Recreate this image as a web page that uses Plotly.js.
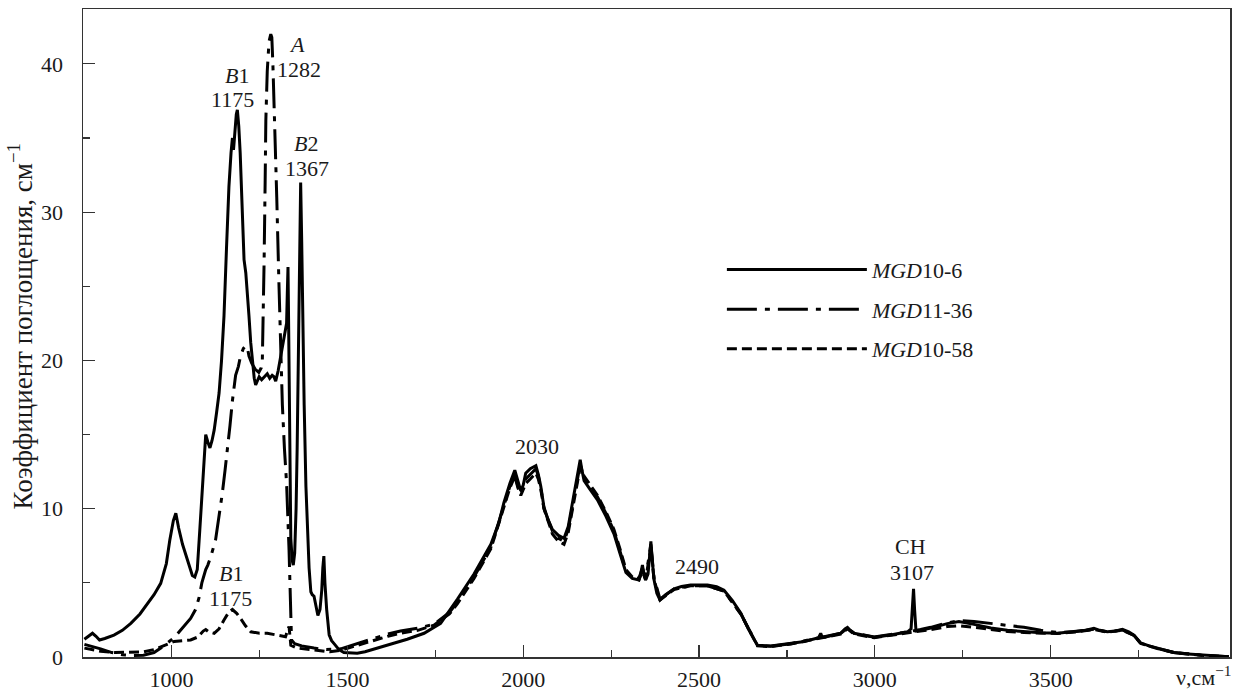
<!DOCTYPE html>
<html>
<head>
<meta charset="utf-8">
<script src="https://cdn.plot.ly/plotly-3.0.1.min.js"></script>
<style>html,body{margin:0;padding:0;background:#fff;}#chart{width:1239px;height:694px;}</style>
</head>
<body>
<div id="chart"></div>
<script>
// MGD10-6 (solid)
const nuA = [752,765,775,785,795,810,836,860,884,910,931,950,969,985,995,1005,1012,1020,1031,1045,1059,1066,1073,1080,1088,1093,1097,1103,1109,1115,1121,1128,1135,1142,1149,1156,1163,1169,1173,1176,1180,1184,1187,1191,1195,1201,1206,1211,1216,1220,1225,1230,1235,1239,1244,1249,1256,1263,1272,1279,1286,1291,1296,1303,1310,1320,1327,1329,1331,1333,1335,1337,1339,1343,1346,1350,1354,1357,1361,1364,1367,1370,1373,1377,1382,1386,1391,1396,1400,1405,1410,1416,1422,1427,1430,1433,1436,1441,1448,1455,1462,1476,1490,1510,1528,1550,1580,1623,1670,1718,1765,1813,1860,1908,1930,1945,1962,1976,1985,1993,2000,2007,2020,2036,2043,2050,2059,2070,2083,2100,2116,2128,2140,2152,2162,2167,2173,2190,2211,2235,2258,2275,2292,2310,2329,2334,2339,2343,2348,2355,2359,2363,2367,2372,2380,2389,2405,2429,2450,2476,2500,2524,2550,2571,2595,2619,2640,2666,2704,2761,2800,2840,2846,2850,2860,2903,2915,2922,2930,2941,2970,2998,3045,3093,3103,3107,3110,3113,3117,3130,3159,3206,3239,3282,3330,3377,3424,3472,3519,3567,3600,3623,3640,3661,3685,3704,3715,3722,3737,3756,3780,3803,3830,3850,3880,3926,3970,4007];
const kA = [1.2,1.45,1.6,1.4,1.15,1.25,1.48,1.8,2.27,2.9,3.6,4.2,4.97,6.3,7.9,9.2,9.7,8.7,7.6,6.5,5.5,5.4,5.9,8.5,11.7,14.0,15.0,14.5,14.1,14.6,15.3,16.5,17.8,20.0,23.0,27.5,31.7,34.0,35.0,34.2,35.8,36.6,36.9,35.8,34.0,29.5,26.8,25.9,24.5,23.0,21.2,19.8,18.8,18.35,18.6,18.9,18.7,18.9,19.1,18.8,19.0,18.9,18.6,19.3,20.3,21.6,22.5,24.5,26.3,22.0,17.0,13.0,8.0,6.5,6.2,7.0,10.0,14.0,21.0,28.0,32.0,28.0,22.0,17.0,11.5,8.3,6.0,4.4,4.2,4.1,3.5,2.8,3.2,4.5,6.0,6.8,5.0,3.2,1.5,1.1,0.9,0.5,0.3,0.25,0.25,0.35,0.55,0.85,1.2,1.6,2.27,3.9,5.6,7.6,9.0,10.4,11.7,12.6,11.8,11.2,11.6,12.4,12.7,12.9,12.3,11.5,10.1,9.3,8.6,8.2,8.0,8.8,10.4,12.0,13.3,12.6,11.9,11.3,10.6,9.5,8.3,7.0,5.7,5.3,5.2,5.6,6.2,5.6,5.2,5.6,7.0,7.8,6.5,5.2,4.3,3.85,4.2,4.6,4.75,4.85,4.85,4.85,4.75,4.5,3.8,2.95,1.9,0.8,0.74,0.92,1.05,1.3,1.6,1.35,1.35,1.6,1.9,2.0,1.8,1.6,1.45,1.33,1.48,1.7,1.9,3.5,4.6,3.2,1.75,1.8,1.95,2.25,2.4,2.2,1.95,1.8,1.7,1.64,1.6,1.7,1.8,1.93,1.8,1.7,1.75,1.87,1.75,1.7,1.48,0.95,0.75,0.59,0.42,0.3,0.22,0.13,0.06,0.02];

// MGD11-36 (dash-dot)
const nuB = [752,770,798,830,860,884,920,950,975,1007,1030,1054,1068,1078,1086,1092,1097,1103,1112,1125,1135,1144,1152,1159,1166,1173,1182,1190,1196,1204,1211,1216,1220,1228,1238,1248,1255,1258,1261,1263,1266,1268,1272,1277,1282,1285,1288,1291,1295,1299,1305,1310,1315,1321,1327,1334,1337,1339,1341,1350,1370,1405,1440,1481,1500,1530,1576,1615,1651,1700,1746,1790,1813,1860,1908,1945,1962,1976,1985,1993,2000,2007,2020,2036,2043,2050,2059,2083,2100,2116,2128,2140,2152,2162,2173,2190,2211,2235,2258,2275,2292,2310,2329,2339,2348,2363,2372,2389,2429,2476,2524,2571,2619,2666,2704,2761,2846,2903,2922,2941,2998,3045,3093,3130,3159,3206,3239,3282,3330,3377,3424,3472,3519,3567,3623,3661,3704,3737,3756,3803,3850,3926,4007];
const kB = [0.85,0.75,0.55,0.3,0.15,0.1,0.12,0.3,0.7,1.3,1.9,2.6,3.2,4.0,5.0,5.6,5.9,6.2,6.8,7.9,9.4,11.0,12.6,14.0,15.6,17.3,19.0,19.6,20.3,20.8,21.0,20.8,20.3,19.8,19.4,19.2,19.5,20.0,23.0,26.6,32.0,36.2,39.5,41.5,42.0,41.8,40.0,37.8,34.5,31.0,25.4,20.9,17.0,14.0,11.7,7.2,4.5,2.7,1.15,0.9,0.75,0.6,0.5,0.55,0.7,0.95,1.26,1.55,1.75,1.95,2.2,3.0,3.7,5.4,7.4,10.2,11.5,12.3,11.5,11.0,11.4,12.0,12.3,12.7,12.2,11.4,10.0,8.5,8.0,7.8,8.6,10.2,11.8,13.0,12.0,11.5,10.8,9.7,8.5,7.2,5.8,5.4,5.3,6.0,5.3,7.6,5.3,3.9,4.6,4.8,4.8,4.45,2.9,0.78,0.72,0.9,1.35,1.6,1.95,1.6,1.35,1.5,1.7,1.85,2.0,2.3,2.45,2.4,2.28,2.15,2.0,1.8,1.65,1.7,1.88,1.7,1.82,1.45,0.92,0.58,0.3,0.13,0.02];

// MGD10-58 (dashed)
const nuC = [752,775,798,840,884,920,950,975,1007,1030,1054,1075,1090,1097,1105,1121,1135,1149,1162,1173,1185,1196,1210,1225,1250,1272,1300,1324,1330,1334,1337,1339,1357,1405,1450,1481,1510,1540,1576,1615,1651,1700,1746,1790,1813,1860,1908,1945,1962,1976,1985,1993,2000,2007,2020,2036,2043,2050,2059,2083,2100,2116,2128,2140,2152,2162,2173,2190,2211,2235,2258,2275,2292,2310,2329,2339,2348,2363,2372,2389,2429,2476,2524,2571,2619,2666,2704,2761,2846,2903,2922,2941,2998,3045,3093,3130,3159,3206,3239,3282,3330,3377,3424,3472,3519,3567,3623,3661,3704,3737,3756,3803,3850,3926,4007];
const kC = [0.6,0.5,0.38,0.3,0.3,0.35,0.5,0.75,1.05,1.1,1.15,1.35,1.75,1.85,1.7,1.6,1.9,2.5,3.0,3.2,2.95,2.6,2.1,1.7,1.6,1.6,1.5,1.37,1.8,2.05,1.3,0.8,0.6,0.45,0.35,0.45,0.65,0.85,1.15,1.4,1.6,1.8,2.15,2.9,3.6,5.3,7.3,10.0,11.4,12.2,11.4,10.9,11.3,11.7,12.0,12.4,12.0,11.3,10.0,8.3,7.8,7.6,8.4,10.0,11.7,12.8,12.2,11.6,10.9,9.8,8.6,7.3,5.9,5.4,5.2,5.8,5.2,7.4,5.2,3.85,4.55,4.8,4.8,4.45,2.9,0.75,0.7,0.88,1.3,1.55,1.9,1.55,1.3,1.45,1.65,1.75,1.85,2.05,2.1,2.0,1.85,1.72,1.65,1.6,1.58,1.68,1.85,1.68,1.8,1.45,0.92,0.57,0.3,0.12,0.02];

const seriesNames = ['<i>MGD</i>10-6', '<i>MGD</i>11-36', '<i>MGD</i>10-58'];
const xTickVals = [1000,1500,2000,2500,3000,3500];
const xTickText = ['1000','1500','2000','2500','3000','3500'];
const yTickVals = [0,10,20,30,40];
const yTickText = ['0','10','20','30','40'];

// peak labels: [wavenumber, k, text]
const peakLabels = [
  [1187, 39.2, '<i>B</i>1'], [1173, 37.6, '1175'],
  [1356, 41.3, '<i>A</i>'], [1362, 39.6, '1282'],
  [1381, 34.6, '<i>B</i>2'], [1384, 32.95, '1367'],
  [1168, 5.62, '<i>B</i>1'], [1168, 3.92, '1175'],
  [2038, 14.19, '2030'],
  [2493, 6.09, '2490'],
  [3102, 7.42, 'CH'], [3107, 5.72, '3107']
];

const FONT = '"Liberation Serif", "Times New Roman", serif';
const TXT = '#1a1a1a';

const traces = [
  {x: nuA, y: kA, name: seriesNames[0], legendgroup: 'a', mode: 'lines', line: {color: '#000', width: 3, dash: 'solid'}},
  {x: nuB, y: kB, name: seriesNames[1], legendgroup: 'b', mode: 'lines', line: {color: '#000', width: 3, dash: '30px,8px,5px,8px'}},
  {x: nuC, y: kC, name: seriesNames[2], legendgroup: 'c', mode: 'lines', line: {color: '#000', width: 3, dash: '10px,5px'}}
];

const annotations = peakLabels.map(p => ({
  x: p[0], y: p[1], xref: 'x', yref: 'y', text: p[2], showarrow: false,
  font: {family: FONT, size: 22, color: TXT}, xanchor: 'center', yanchor: 'middle'
}));
annotations.push({
  xref: 'paper', yref: 'paper', x: 0.977, y: -0.03, text: 'ν,см<sup>−1</sup>', showarrow: false,
  font: {family: FONT, size: 22, color: TXT}, xanchor: 'center', yanchor: 'middle'
});
annotations.push({
  xref: 'paper', yref: 'paper', x: -0.055, y: 0.51, text: 'Коэффициент поглощения, см<sup>−1</sup>', showarrow: false,
  textangle: -90, font: {family: FONT, size: 27, color: TXT}, xanchor: 'center', yanchor: 'middle'
});

const layout = {
  width: 1239, height: 694,
  margin: {l: 83, r: 9, t: 9, b: 37},
  paper_bgcolor: '#fff', plot_bgcolor: '#fff',
  font: {family: FONT, size: 22, color: TXT},
  showlegend: true,
  legend: {x: 0.557, y: 0.63, xanchor: 'left', yanchor: 'top', bgcolor: 'rgba(0,0,0,0)', borderwidth: 0,
           font: {family: FONT, size: 22, color: TXT}, itemwidth: 140, tracegroupgap: 8, traceorder: 'grouped'},
  xaxis: {range: [748, 4010], showgrid: false, zeroline: false, showline: true, mirror: true, linecolor: '#333', linewidth: 1.5,
          tickmode: 'array', tickvals: xTickVals, ticktext: xTickText, ticks: 'inside', ticklen: 12, tickcolor: '#333', tickwidth: 1.2,
          ticklabelstandoff: 2,
          minor: {tickmode: 'array', tickvals: [1250,1750,2250,2750,3250,3750], ticks: 'inside', ticklen: 7, tickcolor: '#333', tickwidth: 1.2},
          tickfont: {family: FONT, size: 22, color: TXT}},
  yaxis: {range: [0, 43.7], showgrid: false, zeroline: false, showline: true, mirror: true, linecolor: '#333', linewidth: 1.5,
          tickmode: 'array', tickvals: yTickVals, ticktext: yTickText, ticks: 'inside', ticklen: 12, tickcolor: '#333', tickwidth: 1.2,
          ticklabelstandoff: 14,
          minor: {tickmode: 'array', tickvals: [5,15,25,35], ticks: 'inside', ticklen: 7, tickcolor: '#333', tickwidth: 1.2},
          tickfont: {family: FONT, size: 22, color: TXT}},
  annotations: annotations
};

Plotly.newPlot('chart', traces, layout, {staticPlot: true, displayModeBar: false});
</script>
</body>
</html>
